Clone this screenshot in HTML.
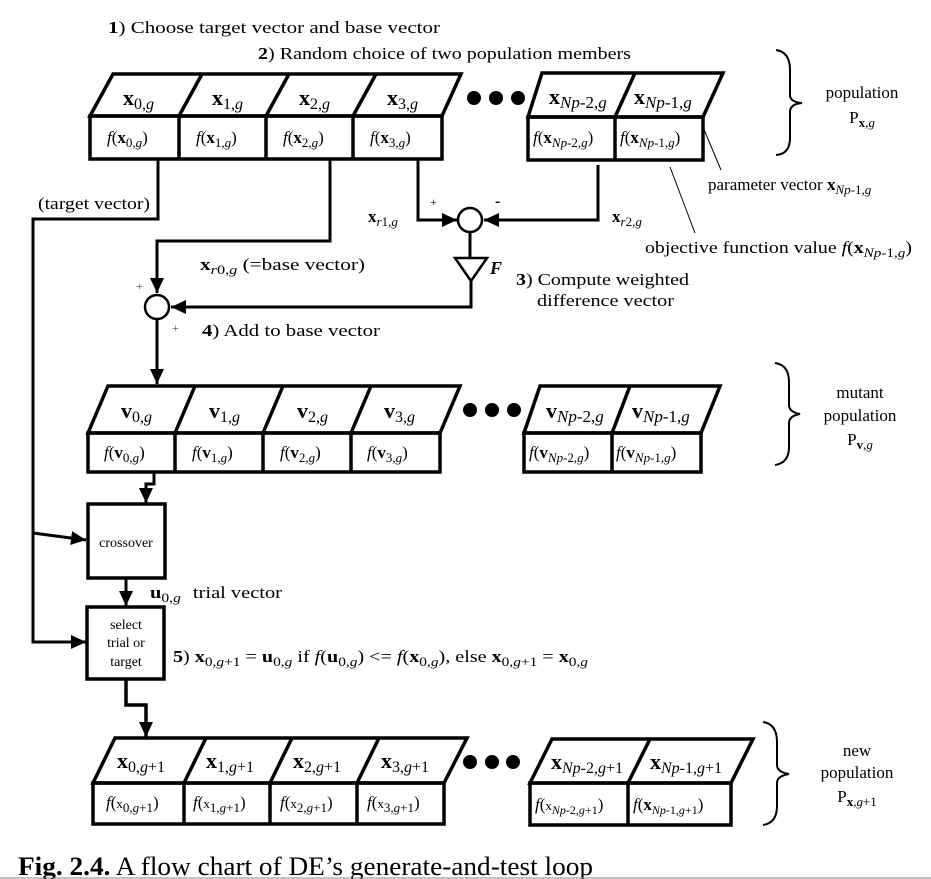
<!DOCTYPE html>
<html><head><meta charset="utf-8"><style>
html,body{margin:0;padding:0;background:#fff;}
svg{display:block;font-family:"Liberation Serif",serif;}
.b{fill:none;stroke:#000;stroke-width:3.5;}
.l{fill:none;stroke:#000;stroke-width:3;}
.t{font-size:17px;}
.h{font-size:22px;}
.c{font-size:17px;}
</style></head><body>
<svg width="931" height="879" viewBox="0 0 931 879" xmlns="http://www.w3.org/2000/svg">
<defs>
<marker id="A" markerWidth="16" markerHeight="16" refX="15" refY="7" orient="auto" markerUnits="userSpaceOnUse"><path d="M0,0 L15,7 L0,14z"/></marker></defs>

<text x="108" y="33" class="t" textLength="332" lengthAdjust="spacingAndGlyphs"><tspan font-weight="bold">1</tspan>) Choose target vector and base vector</text>
<text x="258" y="59" class="t" textLength="373" lengthAdjust="spacingAndGlyphs"><tspan font-weight="bold">2</tspan>) Random choice of two population members</text>

<!-- Row 1 -->
<polygon class="b" points="90,116 113,74 461,74 442,116"/>
<rect class="b" x="90" y="116" width="352" height="43"/>
<path class="b" d="M179,116 V159 M266,116 V159 M353,116 V159 M179,116 L202,74 M266,116 L289,74 M353,116 L376,74"/>
<g class="h">
<text x="123" y="105"><tspan font-weight="bold">x</tspan><tspan font-size="16" dy="4">0,<tspan font-style="italic">g</tspan></tspan></text>
<text x="212" y="105"><tspan font-weight="bold">x</tspan><tspan font-size="16" dy="4">1,<tspan font-style="italic">g</tspan></tspan></text>
<text x="299" y="105"><tspan font-weight="bold">x</tspan><tspan font-size="16" dy="4">2,<tspan font-style="italic">g</tspan></tspan></text>
<text x="387" y="105"><tspan font-weight="bold">x</tspan><tspan font-size="16" dy="4">3,<tspan font-style="italic">g</tspan></tspan></text>
</g>
<g class="c">
<text x="107" y="143"><tspan font-style="italic">f</tspan>(<tspan font-weight="bold">x</tspan><tspan font-size="13" dy="4">0,<tspan font-style="italic">g</tspan></tspan><tspan dy="-4">)</tspan></text>
<text x="196" y="143"><tspan font-style="italic">f</tspan>(<tspan font-weight="bold">x</tspan><tspan font-size="13" dy="4">1,<tspan font-style="italic">g</tspan></tspan><tspan dy="-4">)</tspan></text>
<text x="283" y="143"><tspan font-style="italic">f</tspan>(<tspan font-weight="bold">x</tspan><tspan font-size="13" dy="4">2,<tspan font-style="italic">g</tspan></tspan><tspan dy="-4">)</tspan></text>
<text x="370" y="143"><tspan font-style="italic">f</tspan>(<tspan font-weight="bold">x</tspan><tspan font-size="13" dy="4">3,<tspan font-style="italic">g</tspan></tspan><tspan dy="-4">)</tspan></text>
</g>
<circle cx="474" cy="98" r="7"/><circle cx="496" cy="98" r="7"/><circle cx="518" cy="98" r="7"/>
<polygon class="b" points="528,117 542,73 723,73 703,117"/>
<rect class="b" x="528" y="117" width="175" height="43"/>
<path class="b" d="M615,117 V160 M615,117 L635,73"/>
<g class="h">
<text x="549" y="104"><tspan font-weight="bold">x</tspan><tspan font-size="17" dy="4" font-style="italic">Np</tspan><tspan font-size="17">-2,<tspan font-style="italic">g</tspan></tspan></text>
<text x="634" y="104"><tspan font-weight="bold">x</tspan><tspan font-size="17" dy="4" font-style="italic">Np</tspan><tspan font-size="17">-1,<tspan font-style="italic">g</tspan></tspan></text>
</g>
<g class="c">
<text x="533" y="143"><tspan font-style="italic">f</tspan>(<tspan font-weight="bold">x</tspan><tspan font-size="13" dy="4"><tspan font-style="italic">Np</tspan>-2,<tspan font-style="italic">g</tspan></tspan><tspan dy="-4">)</tspan></text>
<text x="620" y="143"><tspan font-style="italic">f</tspan>(<tspan font-weight="bold">x</tspan><tspan font-size="13" dy="4"><tspan font-style="italic">Np</tspan>-1,<tspan font-style="italic">g</tspan></tspan><tspan dy="-4">)</tspan></text>
</g>
<path d="M776,50 Q790,52 790,70 V95 Q790,102 802,103 Q790,104 790,112 V138 Q790,154 776,155" fill="none" stroke="#000" stroke-width="2"/>
<text x="862" y="98" class="t" text-anchor="middle">population</text>
<text x="862" y="123" class="t" text-anchor="middle">P<tspan font-size="13" dy="4"><tspan font-weight="bold">x</tspan>,<tspan font-style="italic">g</tspan></tspan></text>
<path d="M703,127 L721,170 M670,167 L695,233" stroke="#000" stroke-width="1"/>
<text x="708" y="190" class="t">parameter vector <tspan font-weight="bold">x</tspan><tspan font-size="13" dy="4"><tspan font-style="italic">Np</tspan>-1,<tspan font-style="italic">g</tspan></tspan></text>
<text x="645" y="253" class="t" textLength="267" lengthAdjust="spacingAndGlyphs">objective function value <tspan font-style="italic">f</tspan>(<tspan font-weight="bold">x</tspan><tspan font-size="13" dy="4"><tspan font-style="italic">Np</tspan>-1,<tspan font-style="italic">g</tspan></tspan><tspan dy="-4">)</tspan></text>

<!-- connectors top -->
<path class="l" d="M158,159 V219 H33 V642 H86" marker-end="url(#A)"/>
<path class="l" d="M33,533 L86,540" marker-end="url(#A)"/>
<text x="38" y="209" class="t" textLength="112" lengthAdjust="spacingAndGlyphs">(target vector)</text>
<path class="l" d="M330,159 V241 H157 V293" marker-end="url(#A)"/>
<path class="l" d="M418,159 V220 H457" marker-end="url(#A)"/>
<path class="l" d="M598,165 V220 H484" marker-end="url(#A)"/>
<circle cx="470" cy="220" r="12" fill="#fff" stroke="#000" stroke-width="2.5"/>
<circle cx="157" cy="307" r="12" fill="#fff" stroke="#000" stroke-width="2.5"/>
<path class="l" d="M470,232 V258"/>
<polygon points="455,258 487,258 471,281" fill="#fff" stroke="#000" stroke-width="2.5"/>
<path class="l" d="M471,281 V307 H171" marker-end="url(#A)"/>
<text x="490" y="274" font-size="18" font-weight="bold" font-style="italic">F</text>
<text x="430" y="206" font-size="12">+</text>
<text x="495" y="206" font-size="16" font-weight="bold">-</text>
<text x="368" y="222" class="t"><tspan font-weight="bold">x</tspan><tspan font-size="13" dy="4"><tspan font-style="italic">r</tspan>1,<tspan font-style="italic">g</tspan></tspan></text>
<text x="612" y="222" class="t"><tspan font-weight="bold">x</tspan><tspan font-size="13" dy="4"><tspan font-style="italic">r</tspan>2,<tspan font-style="italic">g</tspan></tspan></text>
<text x="200" y="270" class="t" textLength="165" lengthAdjust="spacingAndGlyphs"><tspan font-weight="bold">x</tspan><tspan font-size="13" dy="4"><tspan font-style="italic">r</tspan>0,<tspan font-style="italic">g</tspan></tspan><tspan dy="-4">  (=base vector)</tspan></text>
<text x="516" y="285" class="t" textLength="173" lengthAdjust="spacingAndGlyphs"><tspan font-weight="bold">3</tspan>) Compute weighted</text>
<text x="537" y="306" class="t" textLength="137" lengthAdjust="spacingAndGlyphs">difference vector</text>
<text x="136" y="290" font-size="12" fill="#7a2a7a">+</text>
<text x="172" y="332" font-size="12" fill="#7a2a7a">+</text>
<text x="202" y="336" class="t" textLength="178" lengthAdjust="spacingAndGlyphs"><tspan font-weight="bold">4</tspan>) Add to base vector</text>
<path class="l" d="M157,319 V384" marker-end="url(#A)"/>

<!-- Row 2 -->
<polygon class="b" points="88,433 108,386 460,386 440,433"/>
<rect class="b" x="88" y="433" width="352" height="39"/>
<path class="b" d="M175,433 V472 M263,433 V472 M351,433 V472 M175,433 L195,386 M263,433 L283,386 M351,433 L371,386"/>
<g class="h">
<text x="121" y="418"><tspan font-weight="bold">v</tspan><tspan font-size="16" dy="4">0,<tspan font-style="italic">g</tspan></tspan></text>
<text x="209" y="418"><tspan font-weight="bold">v</tspan><tspan font-size="16" dy="4">1,<tspan font-style="italic">g</tspan></tspan></text>
<text x="297" y="418"><tspan font-weight="bold">v</tspan><tspan font-size="16" dy="4">2,<tspan font-style="italic">g</tspan></tspan></text>
<text x="384" y="418"><tspan font-weight="bold">v</tspan><tspan font-size="16" dy="4">3,<tspan font-style="italic">g</tspan></tspan></text>
</g>
<g class="c">
<text x="104" y="458"><tspan font-style="italic">f</tspan>(<tspan font-weight="bold">v</tspan><tspan font-size="13" dy="4">0,<tspan font-style="italic">g</tspan></tspan><tspan dy="-4">)</tspan></text>
<text x="192" y="458"><tspan font-style="italic">f</tspan>(<tspan font-weight="bold">v</tspan><tspan font-size="13" dy="4">1,<tspan font-style="italic">g</tspan></tspan><tspan dy="-4">)</tspan></text>
<text x="280" y="458"><tspan font-style="italic">f</tspan>(<tspan font-weight="bold">v</tspan><tspan font-size="13" dy="4">2,<tspan font-style="italic">g</tspan></tspan><tspan dy="-4">)</tspan></text>
<text x="367" y="458"><tspan font-style="italic">f</tspan>(<tspan font-weight="bold">v</tspan><tspan font-size="13" dy="4">3,<tspan font-style="italic">g</tspan></tspan><tspan dy="-4">)</tspan></text>
</g>
<circle cx="470" cy="410" r="7"/><circle cx="492" cy="410" r="7"/><circle cx="514" cy="410" r="7"/>
<polygon class="b" points="524,433 540,386 720,386 701,433"/>
<rect class="b" x="524" y="433" width="177" height="39"/>
<path class="b" d="M612,433 V472 M612,433 L630,386"/>
<g class="h">
<text x="546" y="418"><tspan font-weight="bold">v</tspan><tspan font-size="17" dy="4" font-style="italic">Np</tspan><tspan font-size="17">-2,<tspan font-style="italic">g</tspan></tspan></text>
<text x="632" y="418"><tspan font-weight="bold">v</tspan><tspan font-size="17" dy="4" font-style="italic">Np</tspan><tspan font-size="17">-1,<tspan font-style="italic">g</tspan></tspan></text>
</g>
<g class="c">
<text x="529" y="458"><tspan font-style="italic">f</tspan>(<tspan font-weight="bold">v</tspan><tspan font-size="13" dy="4"><tspan font-style="italic">Np</tspan>-2,<tspan font-style="italic">g</tspan></tspan><tspan dy="-4">)</tspan></text>
<text x="616" y="458"><tspan font-style="italic">f</tspan>(<tspan font-weight="bold">v</tspan><tspan font-size="13" dy="4"><tspan font-style="italic">Np</tspan>-1,<tspan font-style="italic">g</tspan></tspan><tspan dy="-4">)</tspan></text>
</g>
<path d="M775,363 Q789,365 789,382 V405 Q789,412 800,414 Q789,416 789,423 V447 Q789,463 775,465" fill="none" stroke="#000" stroke-width="2"/>
<text x="860" y="398" class="t" text-anchor="middle">mutant</text>
<text x="860" y="421" class="t" text-anchor="middle">population</text>
<text x="860" y="445" class="t" text-anchor="middle">P<tspan font-size="13" dy="4"><tspan font-weight="bold">v</tspan>,<tspan font-style="italic">g</tspan></tspan></text>

<!-- crossover / select -->
<path class="l" d="M154,472 V484 H146 V503" marker-end="url(#A)"/>
<rect class="b" x="88" y="504" width="77" height="74"/>
<text x="126" y="547" font-size="14" text-anchor="middle">crossover</text>
<path class="l" d="M126,578 V606" marker-end="url(#A)"/>
<text x="150" y="598" class="t" textLength="132" lengthAdjust="spacingAndGlyphs"><tspan font-weight="bold">u</tspan><tspan font-size="13" dy="4">0,<tspan font-style="italic">g</tspan></tspan><tspan dy="-4" dx="10">trial vector</tspan></text>
<rect class="b" x="87" y="607" width="77" height="72"/>
<text x="126" y="629" font-size="14" text-anchor="middle">select</text>
<text x="126" y="647" font-size="14" text-anchor="middle">trial or</text>
<text x="126" y="666" font-size="14" text-anchor="middle">target</text>
<text x="173" y="662" class="t" textLength="415" lengthAdjust="spacingAndGlyphs"><tspan font-weight="bold">5</tspan>) <tspan font-weight="bold">x</tspan><tspan font-size="13" dy="4">0,<tspan font-style="italic">g</tspan>+1</tspan><tspan dy="-4"> = </tspan><tspan font-weight="bold">u</tspan><tspan font-size="13" dy="4">0,<tspan font-style="italic">g</tspan></tspan><tspan dy="-4"> if </tspan><tspan font-style="italic">f</tspan>(<tspan font-weight="bold">u</tspan><tspan font-size="13" dy="4">0,<tspan font-style="italic">g</tspan></tspan><tspan dy="-4">) &lt;= </tspan><tspan font-style="italic">f</tspan>(<tspan font-weight="bold">x</tspan><tspan font-size="13" dy="4">0,<tspan font-style="italic">g</tspan></tspan><tspan dy="-4">), else </tspan><tspan font-weight="bold">x</tspan><tspan font-size="13" dy="4">0,<tspan font-style="italic">g</tspan>+1</tspan><tspan dy="-4"> = </tspan><tspan font-weight="bold">x</tspan><tspan font-size="13" dy="4">0,<tspan font-style="italic">g</tspan></tspan></text>
<path class="b" d="M126,679 V705 H146 V737" marker-end="url(#A)"/>

<!-- Row 3 -->
<polygon class="b" points="93,783 115,738 467,738 444,783"/>
<rect class="b" x="93" y="783" width="351" height="41"/>
<path class="b" d="M184,783 V824 M270,783 V824 M357,783 V824 M184,783 L206,738 M270,783 L292,738 M357,783 L379,738"/>
<g class="h">
<text x="117" y="768"><tspan font-weight="bold">x</tspan><tspan font-size="16" dy="4">0,<tspan font-style="italic">g</tspan>+1</tspan></text>
<text x="206" y="768"><tspan font-weight="bold">x</tspan><tspan font-size="16" dy="4">1,<tspan font-style="italic">g</tspan>+1</tspan></text>
<text x="293" y="768"><tspan font-weight="bold">x</tspan><tspan font-size="16" dy="4">2,<tspan font-style="italic">g</tspan>+1</tspan></text>
<text x="381" y="768"><tspan font-weight="bold">x</tspan><tspan font-size="16" dy="4">3,<tspan font-style="italic">g</tspan>+1</tspan></text>
</g>
<g class="c">
<text x="106" y="808"><tspan font-style="italic">f</tspan>(<tspan font-size="13">x</tspan><tspan font-size="13" dy="4">0,<tspan font-style="italic">g</tspan>+1</tspan><tspan dy="-4">)</tspan></text>
<text x="193" y="808"><tspan font-style="italic">f</tspan>(<tspan font-size="13">x</tspan><tspan font-size="13" dy="4">1,<tspan font-style="italic">g</tspan>+1</tspan><tspan dy="-4">)</tspan></text>
<text x="280" y="808"><tspan font-style="italic">f</tspan>(<tspan font-size="13">x</tspan><tspan font-size="13" dy="4">2,<tspan font-style="italic">g</tspan>+1</tspan><tspan dy="-4">)</tspan></text>
<text x="367" y="808"><tspan font-style="italic">f</tspan>(<tspan font-size="13">x</tspan><tspan font-size="13" dy="4">3,<tspan font-style="italic">g</tspan>+1</tspan><tspan dy="-4">)</tspan></text>
</g>
<circle cx="470" cy="762" r="7"/><circle cx="492" cy="762" r="7"/><circle cx="513" cy="762" r="7"/>
<polygon class="b" points="530,783 552,739 753,739 731,783"/>
<rect class="b" x="530" y="783" width="201" height="42"/>
<path class="b" d="M628,783 V825 M628,783 L650,739"/>
<g class="h">
<text x="551" y="769"><tspan font-weight="bold">x</tspan><tspan font-size="16" dy="4"><tspan font-style="italic">Np</tspan>-2,<tspan font-style="italic">g</tspan>+1</tspan></text>
<text x="650" y="769"><tspan font-weight="bold">x</tspan><tspan font-size="16" dy="4"><tspan font-style="italic">Np</tspan>-1,<tspan font-style="italic">g</tspan>+1</tspan></text>
</g>
<g class="c">
<text x="535" y="810"><tspan font-style="italic">f</tspan>(<tspan font-size="13">x</tspan><tspan font-size="12" dy="4"><tspan font-style="italic">Np</tspan>-2,<tspan font-style="italic">g</tspan>+1</tspan><tspan dy="-4">)</tspan></text>
<text x="633" y="810"><tspan font-style="italic">f</tspan>(<tspan font-weight="bold">x</tspan><tspan font-size="12" dy="4"><tspan font-style="italic">Np</tspan>-1,<tspan font-style="italic">g</tspan>+1</tspan><tspan dy="-4">)</tspan></text>
</g>
<path d="M763,722 Q777,724 777,742 V765 Q777,772 789,774 Q777,776 777,783 V806 Q777,823 763,825" fill="none" stroke="#000" stroke-width="2"/>
<text x="857" y="756" class="t" text-anchor="middle">new</text>
<text x="857" y="778" class="t" text-anchor="middle">population</text>
<text x="857" y="802" class="t" text-anchor="middle">P<tspan font-size="13" dy="4"><tspan font-weight="bold">x</tspan>,<tspan font-style="italic">g</tspan>+1</tspan></text>

<text x="18" y="875" font-size="26" textLength="575" lengthAdjust="spacingAndGlyphs"><tspan font-weight="bold">Fig. 2.4.</tspan> A flow chart of DE’s generate-and-test loop</text>
<line x1="0" y1="878" x2="931" y2="878" stroke="#888" stroke-width="1"/>
</svg>
</body></html>
